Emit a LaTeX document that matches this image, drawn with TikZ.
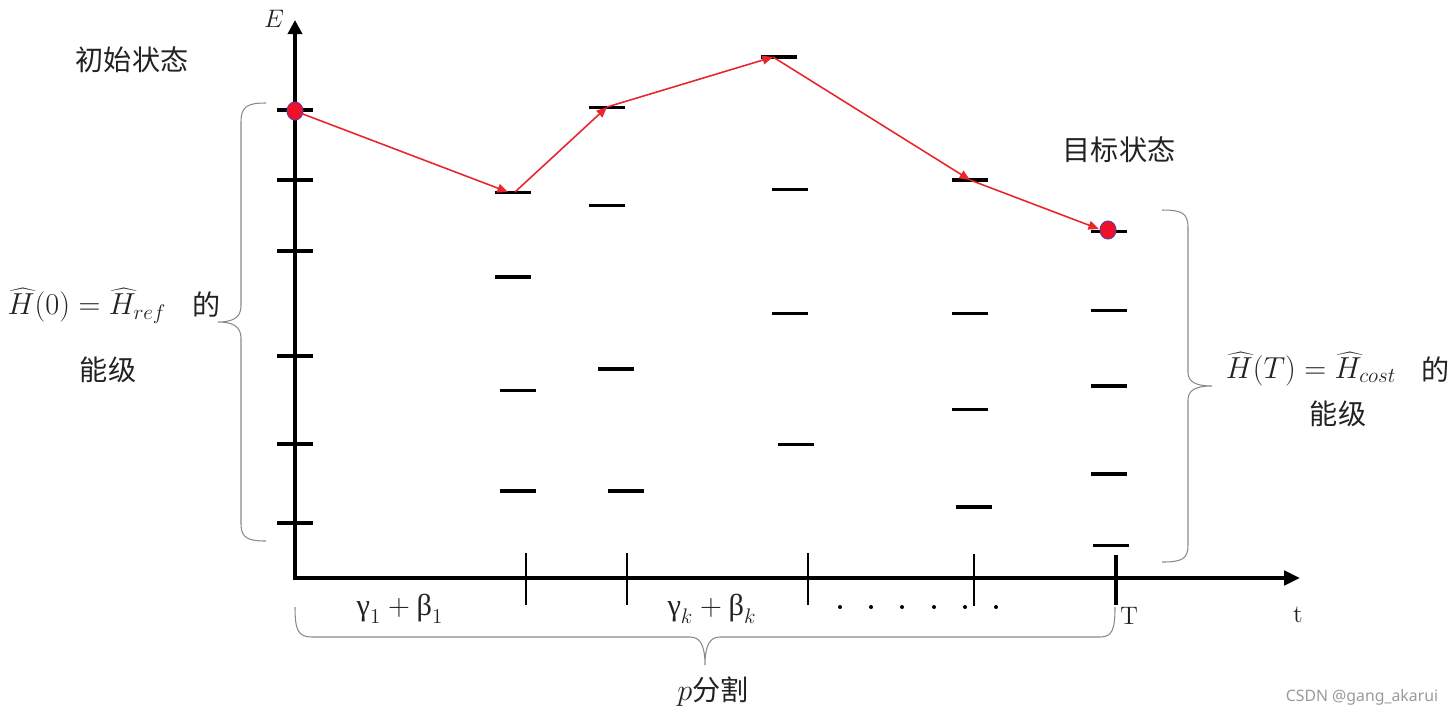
\documentclass[tikz,border=0pt]{standalone}
\usepackage{fontspec}
\usetikzlibrary{arrows.meta,shapes.geometric}
\newfontfamily\cjk{Noto Sans CJK SC}
\newfontfamily\grk{Liberation Serif}
\newfontfamily\wm{Noto Sans}
\definecolor{arrowred}{HTML}{E8262C}
\definecolor{dotred}{HTML}{F0102A}
\definecolor{dotedge}{HTML}{6E3A8C}
\definecolor{bracegray}{HTML}{8A8A8A}
\definecolor{txt}{HTML}{222222}
\definecolor{wmgray}{HTML}{9A9A9A}
\begin{document}
\begin{tikzpicture}[x=0.02cm,y=-0.02cm,
  axis/.style={line width=2.7pt, black, line join=miter},
  lvl/.style={rectangle, fill=black, inner sep=0pt, minimum width=0.72cm, minimum height=0.06cm},
  lvlthick/.style={lvl, minimum height=0.08cm},
  etick/.style={rectangle, fill=black, inner sep=0pt, minimum width=0.72cm, minimum height=0.065cm},
  ttick/.style={rectangle, fill=black, inner sep=0pt, minimum width=0.03cm, minimum height=1.04cm},
  tticktk/.style={rectangle, fill=black, inner sep=0pt, minimum width=0.08cm, minimum height=1.0cm},
  smalldot/.style={circle, fill=black, inner sep=0pt, minimum size=0.08cm},
  state/.style={ellipse, fill=dotred, draw=dotedge, line width=0.6pt, inner sep=0pt, minimum width=0.32cm, minimum height=0.36cm},
  trans/.style={draw=arrowred, line width=0.9pt, -{Triangle[length=6pt,width=5pt]}},
  brace/.style={draw=bracegray, line width=0.6pt},
  cjktext/.style={font=\cjk\fontsize{16}{18}\selectfont, text=txt, inner sep=0pt},
  mathtext/.style={font=\fontsize{17.28}{20}\selectfont, text=txt, inner sep=0pt},
  wmtext/.style={font=\wm\fontsize{9}{11}\selectfont, text=wmgray, inner sep=0pt}
]
\useasboundingbox (0,0) rectangle (1456,718);

% axes
\coordinate (O) at (295,578);
\coordinate (Etip) at (295,20);
\coordinate (ttip) at (1300,578);
\draw[axis, {Triangle[length=8pt,width=8pt]}-{Triangle[length=9pt,width=8pt]}] (Etip) -- (O) -- (ttip);
\node[font=\fontsize{14.4}{16}\selectfont, text=txt] (Elab) at (274,19) {$E$};
\node[font=\fontsize{14.4}{16}\selectfont, text=txt] (tlab) at (1298,615) {t};

% ticks on E axis
\node[etick] (e1) at (295,110) {};
\node[etick] (e2) at (295,180) {};
\node[etick] (e3) at (295,251) {};
\node[etick] (e4) at (295,356) {};
\node[etick] (e5) at (295,444) {};
\node[etick] (e6) at (295,523) {};

% ticks on t axis
\node[ttick] (t1) at (526,579) {};
\node[ttick] (t2) at (627,579) {};
\node[ttick] (t3) at (808,579) {};
\node[ttick] (t4) at (974,580) {};
\node[tticktk] (tT) at (1116,580) {};

% dots
\foreach \x/\n in {840/1,871/2,902/3,934/4,965/5,996/6}
  \node[smalldot] (d\n) at (\x,607) {};

% energy levels
\node[lvl] (c1a) at (513,192) {};
\node[lvlthick] (c1b) at (513,277) {};
\node[lvl] (c1c) at (518,390) {};
\node[lvlthick] (c1d) at (518,491) {};

\node[lvl] (c2a) at (607,107) {};
\node[lvl] (c2b) at (607,205) {};
\node[lvlthick] (c2c) at (616,369) {};
\node[lvlthick] (c2d) at (626,491) {};

\node[lvlthick] (c3a) at (779,57) {};
\node[lvl] (c3b) at (790,189) {};
\node[lvl] (c3c) at (790,313) {};
\node[lvl] (c3d) at (796,444) {};

\node[lvlthick] (c4a) at (970,180) {};
\node[lvl] (c4b) at (970,313) {};
\node[lvl] (c4c) at (970,409) {};
\node[lvlthick] (c4d) at (974,507) {};

\node[lvl] (c5a) at (1109,231) {};
\node[lvl] (c5b) at (1109,310) {};
\node[lvlthick] (c5c) at (1109,386) {};
\node[lvlthick] (c5d) at (1109,474) {};
\node[lvl] (c5e) at (1111,545) {};

% transitions
\draw[trans] (295,111) -- ([xshift=-0.1cm]c1a.center);
\draw[trans] ([xshift=0.04cm]c1a.center) -- (c2a.center);
\draw[trans] (c2a.center) -- ([xshift=-0.12cm]c3a.center);
\draw[trans] ([xshift=-0.12cm]c3a.center) -- (c4a.center);
\coordinate (endT) at (1099,229);
\draw[trans] (c4a.center) -- (endT);

% states
\node[state] (s0) at (295,111) {};
\node[state] (sT) at (1108,230) {};

% braces
\draw[brace] (266,103) .. controls (248,103) and (241,106) .. (241,122) -- (241,306)
  .. controls (241,318) and (232,322) .. (218,322)
  .. controls (232,322) and (241,326) .. (241,338) -- (241,524)
  .. controls (241,538) and (248,541) .. (266,541);
\draw[brace] (1162,210) .. controls (1182,210) and (1188,213) .. (1188,228) -- (1188,372)
  .. controls (1188,382) and (1196,386) .. (1212,386)
  .. controls (1196,386) and (1188,390) .. (1188,400) -- (1188,545)
  .. controls (1188,559) and (1182,562) .. (1162,562);
\draw[brace] (295,607) .. controls (295,630) and (298,637) .. (312,637) -- (690,637)
  .. controls (700,637) and (705,645) .. (705,665)
  .. controls (705,645) and (710,637) .. (720,637) -- (1100,637)
  .. controls (1112,637) and (1115,630) .. (1115,607);

% labels
\node[cjktext] (init) at (132,60) {初始状态};
\node[cjktext] (goal) at (1119,150) {目标状态};
\node[mathtext] (h0) at (87,306) {$\widehat{H}(0)=\widehat{H}_{ref}$};
\node[cjktext] (de0) at (207,305) {的};
\node[cjktext] (lv0) at (108,370) {能级};
\node[mathtext] (hT) at (1311,369) {$\widehat{H}(T)=\widehat{H}_{cost}$};
\node[cjktext] (deT) at (1436,370) {的};
\node[cjktext] (lvT) at (1338,414) {能级};
\node[mathtext] (g1) at (400,609) {$\mbox{\grk γ}_1+\mbox{\grk β}_1$};
\node[mathtext] (gk) at (712,609) {$\mbox{\grk γ}_k+\mbox{\grk β}_k$};
\node[font=\fontsize{14.4}{16}\selectfont, text=txt] (Tlab) at (1129,616) {T};
\node[mathtext, anchor=base] (psplit) at (713,700) {$p$\cjk\fontsize{16}{18}\selectfont 分割};
\node[wmtext] (wm) at (1362,697) {CSDN @gang\_akarui};
\end{tikzpicture}
\end{document}
